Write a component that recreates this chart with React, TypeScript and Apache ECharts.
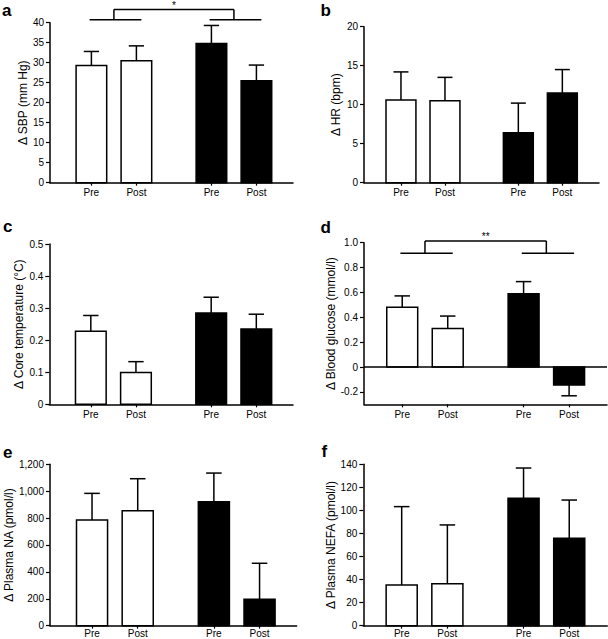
import React, { useEffect, useRef } from "react";
import * as echarts from "echarts";

// ---- data ----
const phaseLabels = ["Pre", "Post", "Pre", "Post"];
const groupOfBar = [0, 0, 1, 1];

const sbpMean = [29.3, 30.5, 34.8, 25.5];
const sbpErr = [3.5, 3.7, 4.5, 3.9];
const sbpTicks = [0, 5, 10, 15, 20, 25, 30, 35, 40];
const sbpSig = [40.7, 43.3];
const sbpSigLabel = "*";

const hrMean = [10.6, 10.5, 6.4, 11.5];
const hrErr = [3.6, 3.0, 3.8, 3.0];
const hrTicks = [0, 5, 10, 15, 20];

const tempMean = [0.228, 0.099, 0.285, 0.235];
const tempErr = [0.049, 0.034, 0.049, 0.046];
const tempTicks = [0, 0.1, 0.2, 0.3, 0.4, 0.5];

const glucoseMean = [0.48, 0.31, 0.59, -0.145];
const glucoseErr = [0.092, 0.1, 0.097, 0.086];
const glucoseTicks = [-0.2, 0, 0.2, 0.4, 0.6, 0.8, 1.0];
const glucoseMin = -0.3;
const glucoseSig = [0.915, 1.014];
const glucoseSigLabel = "**";

const naMean = [786, 855, 922, 196];
const naErr = [198, 238, 213, 268];
const naTicks = [0, 200, 400, 600, 800, 1000, 1200];

const nefaMean = [35.3, 36.4, 110.5, 75.8];
const nefaErr = [68, 51, 26.3, 33.2];
const nefaTicks = [0, 20, 40, 60, 80, 100, 120, 140];

// ---- layout constants ----
const FONT = "Liberation Sans, Arial, Helvetica, sans-serif";
const GROUP_STEP = 2.667;
const BAR_W = 0.68;
const CAP_HALF = 0.17;

function slotX(i: number) {
  return 1 + (i % 2) + groupOfBar[i] * GROUP_STEP;
}
const slots = phaseLabels.map((_, i) => slotX(i));

const fmtInt = (v: number) => String(Math.round(v));
const fmtDec = (v: number) => (Math.abs(v) < 1e-9 ? "0" : v.toFixed(1));
const fmtThousands = (v: number) => Math.round(v).toLocaleString("en-US");

const panels = [
  { letter: "a", lx: 2, ly: 16.5, mean: sbpMean, err: sbpErr, ticks: sbpTicks, min: 0, fmt: fmtInt, title: "\u0394 SBP (mm Hg)", left: 50, top: 22.67, width: 243, height: 160, xMin: 0.08, xMax: 5.48, nameGap: 21, labelMargin: 5, sig: sbpSig, sigLabel: sbpSigLabel, zero: false },
  { letter: "b", lx: 320.5, ly: 16, mean: hrMean, err: hrErr, ticks: hrTicks, min: 0, fmt: fmtInt, title: "\u0394 HR (bpm)", left: 364, top: 26.67, width: 235, height: 156, xMin: 0.16, xMax: 5.5, nameGap: 22, labelMargin: 5, sig: null, sigLabel: "", zero: false },
  { letter: "c", lx: 3, ly: 232, mean: tempMean, err: tempErr, ticks: tempTicks, min: 0, fmt: fmtDec, title: "\u0394 Core temperature (\u00b0C)", left: 49.3, top: 244, width: 243.7, height: 160.3, xMin: 0.08, xMax: 5.48, nameGap: 20.5, labelMargin: 5, sig: null, sigLabel: "", zero: false },
  { letter: "d", lx: 320.5, ly: 233, mean: glucoseMean, err: glucoseErr, ticks: glucoseTicks, min: glucoseMin, fmt: fmtDec, title: "\u0394 Blood glucose (mmol/l)", left: 364, top: 242.67, width: 243, height: 161.7, xMin: 0.16, xMax: 5.5, nameGap: 21, labelMargin: 5, sig: glucoseSig, sigLabel: glucoseSigLabel, zero: true },
  { letter: "e", lx: 3, ly: 458, mean: naMean, err: naErr, ticks: naTicks, min: 0, fmt: fmtThousands, title: "\u0394 Plasma NA (pmol/l)", left: 50, top: 464.33, width: 246.7, height: 161.33, xMin: 0.08, xMax: 5.48, nameGap: 35.5, labelMargin: 3, sig: null, sigLabel: "", zero: false },
  { letter: "f", lx: 321.5, ly: 457, mean: nefaMean, err: nefaErr, ticks: nefaTicks, min: 0, fmt: fmtInt, title: "\u0394 Plasma NEFA (pmol/l)", left: 363.3, top: 464.33, width: 244, height: 161.33, xMin: 0.16, xMax: 5.5, nameGap: 21.5, labelMargin: 3, sig: null, sigLabel: "", zero: false },
];

const renderBar = (_params: any, api: any) => {
  const x = api.value(0);
  const m = api.value(1);
  const e = api.value(2);
  const g = api.value(3);
  const base = api.coord([x, 0]);
  const top = api.coord([x, m]);
  const end = api.coord([x, m >= 0 ? m + e : m - e]);
  const w = api.size([BAR_W, 0])[0];
  const cap = api.size([CAP_HALF, 0])[0];
  return {
    type: "group",
    children: [
      { type: "line", shape: { x1: top[0], y1: top[1], x2: end[0], y2: end[1] }, style: { stroke: "#000", lineWidth: 1.5 } },
      { type: "line", shape: { x1: end[0] - cap, y1: end[1], x2: end[0] + cap, y2: end[1] }, style: { stroke: "#000", lineWidth: 1.5 } },
      {
        type: "rect",
        shape: { x: base[0] - w / 2, y: Math.min(base[1], top[1]), width: w, height: Math.abs(top[1] - base[1]) },
        style: { fill: g ? "#000" : "#fff", stroke: "#000", lineWidth: 1.5 },
      },
    ],
  };
};

const makeBracket = (label: string) => (_params: any, api: any) => {
  const lvl = api.value(0);
  const topV = api.value(1);
  const l0 = api.coord([slots[0] - 0.04, lvl]);
  const l1 = api.coord([slots[1] + 0.11, lvl]);
  const r0 = api.coord([slots[2] - 0.04, lvl]);
  const r1 = api.coord([slots[3] + 0.11, lvl]);
  const mL = api.coord([(slots[0] + slots[1]) / 2, topV]);
  const mR = api.coord([(slots[2] + slots[3]) / 2, topV]);
  const ls = { stroke: "#000", lineWidth: 1.5 };
  return {
    type: "group",
    children: [
      { type: "line", shape: { x1: l0[0], y1: l0[1], x2: l1[0], y2: l1[1] }, style: ls },
      { type: "line", shape: { x1: r0[0], y1: r0[1], x2: r1[0], y2: r1[1] }, style: ls },
      { type: "line", shape: { x1: mL[0], y1: l0[1], x2: mL[0], y2: mL[1] }, style: ls },
      { type: "line", shape: { x1: mR[0], y1: r0[1], x2: mR[0], y2: mR[1] }, style: ls },
      { type: "line", shape: { x1: mL[0], y1: mL[1], x2: mR[0], y2: mR[1] }, style: ls },
      {
        type: "text",
        x: (mL[0] + mR[0]) / 2,
        y: mL[1] + 1,
        style: { text: label, fill: "#000", stroke: "none", font: `10px ${FONT}`, align: "center", verticalAlign: "bottom", textAlign: "center", textVerticalAlign: "bottom" },
      },
    ],
  };
};

function buildOption() {
  const grid: any[] = [];
  const xAxis: any[] = [];
  const yAxis: any[] = [];
  const series: any[] = [];
  const graphic: any[] = [];

  panels.forEach((p, k) => {
    grid.push({ left: p.left, top: p.top, width: p.width, height: p.height, containLabel: false, outerBoundsMode: "none" });
    xAxis.push({
      type: "value",
      gridIndex: k,
      min: p.xMin,
      max: p.xMax,
      axisLine: { show: true, onZero: false, lineStyle: { color: "#000", width: 1.5 } },
      axisTick: { show: true, length: 3, inside: false, customValues: slots, lineStyle: { color: "#000", width: 1.2 } },
      axisLabel: {
        show: true,
        customValues: slots,
        margin: p.labelMargin,
        color: "#000",
        fontSize: 10,
        fontFamily: FONT,
        formatter: (v: number) => {
          const i = slots.findIndex((s) => Math.abs(s - v) < 1e-6);
          return i >= 0 ? phaseLabels[i] : "";
        },
      },
      splitLine: { show: false },
    });
    yAxis.push({
      type: "value",
      gridIndex: k,
      min: p.min,
      max: p.ticks[p.ticks.length - 1],
      name: p.title,
      nameLocation: "middle",
      nameGap: p.nameGap,
      nameTextStyle: { color: "#000", fontSize: 12, fontFamily: FONT },
      axisLine: { show: true, lineStyle: { color: "#000", width: 1.5 } },
      axisTick: { show: true, length: 4, inside: false, customValues: p.ticks, lineStyle: { color: "#000", width: 1.2 } },
      axisLabel: { show: true, customValues: p.ticks, margin: 6, color: "#000", fontSize: 10, fontFamily: FONT, formatter: (v: number) => p.fmt(v) },
      splitLine: { show: false },
    });
    const s: any = {
      type: "custom",
      xAxisIndex: k,
      yAxisIndex: k,
      renderItem: renderBar,
      clip: false,
      silent: true,
      itemStyle: { color: "#000" },
      data: p.mean.map((m, i) => [slots[i], m, p.err[i], groupOfBar[i]]),
    };
    if (p.zero) {
      s.markLine = {
        silent: true,
        symbol: ["none", "none"],
        label: { show: false },
        lineStyle: { color: "#000", width: 1.5, type: "solid" },
        data: [{ yAxis: 0 }],
      };
    }
    series.push(s);
    if (p.sig) {
      series.push({
        type: "custom",
        xAxisIndex: k,
        yAxisIndex: k,
        renderItem: makeBracket(p.sigLabel),
        clip: false,
        silent: true,
        itemStyle: { color: "#000" },
        data: [[p.sig[0], p.sig[1]]],
      });
    }
    graphic.push({
      type: "text",
      x: p.lx,
      y: p.ly - 6,
      style: { text: p.letter, fill: "#000", font: `bold 17px ${FONT}`, textVerticalAlign: "middle", verticalAlign: "middle" },
    });
  });

  return { animation: false, backgroundColor: "#fff", color: ["#000"], grid, xAxis, yAxis, series, graphic };
}

export default function App() {
  const ref = useRef<HTMLDivElement>(null);
  useEffect(() => {
    if (!ref.current) return;
    const chart = echarts.init(ref.current, undefined, { renderer: "svg" });
    chart.setOption(buildOption() as any);
    return () => chart.dispose();
  }, []);
  return (
    <div
      ref={ref}
      style={{ position: "fixed", left: 0, top: 0, width: 608, height: 639, background: "#fff" }}
    />
  );
}
